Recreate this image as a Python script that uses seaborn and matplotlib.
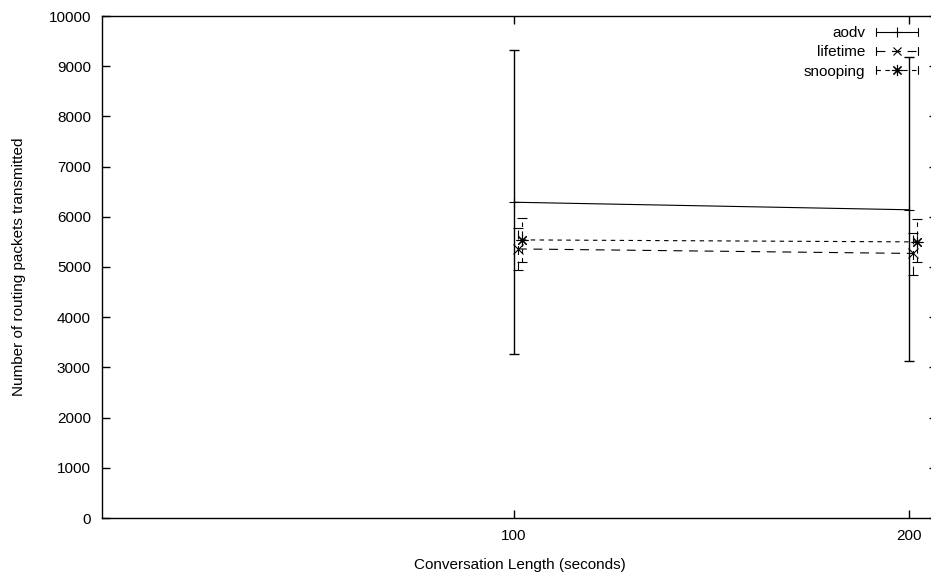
import matplotlib
matplotlib.use("Agg")
import matplotlib.pyplot as plt
import numpy as np
import pandas as pd
import seaborn as sns
from matplotlib.legend_handler import HandlerBase
from matplotlib.lines import Line2D

# ---- data ----
series = ["aodv", "lifetime", "snooping"]

aodv_x = [100, 200]
aodv_y = [6290, 6140]
aodv_lo = [3270, 3130]
aodv_hi = [9320, 9180]

lifetime_x = [101, 201]
lifetime_y = [5360, 5270]
lifetime_lo = [4940, 4850]
lifetime_hi = [5780, 5680]

snooping_x = [102, 202]
snooping_y = [5540, 5500]
snooping_lo = [5100, 5100]
snooping_hi = [5980, 5960]

x_ticks = [100, 200]
y_ticks = list(range(0, 10001, 1000))

x_label = "Conversation Length (seconds)"
y_label = "Number of routing packets transmitted"

# ---- style ----
sns.set_theme(style="ticks")
plt.rcParams["font.family"] = ["Liberation Sans", "DejaVu Sans"]
plt.rcParams["font.size"] = 11
plt.rcParams["axes.edgecolor"] = "black"
plt.rcParams["text.color"] = "black"
plt.rcParams["axes.labelcolor"] = "black"
plt.rcParams["xtick.color"] = "black"
plt.rcParams["ytick.color"] = "black"

markers = {"aodv": "+", "lifetime": "x", "snooping": (8, 2, 0)}
msizes = {"aodv": 7, "lifetime": 6.5, "snooping": 8.5}
dashes = {"aodv": "", "lifetime": (8, 6), "snooping": (4, 4)}
linestyles = {"aodv": "-", "lifetime": (0, (8, 6)), "snooping": (0, (4, 4))}

data = {
    "aodv": (aodv_x, aodv_y, aodv_lo, aodv_hi),
    "lifetime": (lifetime_x, lifetime_y, lifetime_lo, lifetime_hi),
    "snooping": (snooping_x, snooping_y, snooping_lo, snooping_hi),
}

rows = []
for s in series:
    xs, ys, _, _ = data[s]
    for xv, yv in zip(xs, ys):
        rows.append({"x": xv, "y": yv, "series": s})
df = pd.DataFrame(rows)

fig = plt.figure(figsize=(9.31, 5.78), dpi=100)
ax = fig.add_axes([102 / 931, 60 / 578, (937 - 102) / 931, (518 - 16) / 578])

LW = 0.8
sns.lineplot(
    data=df, x="x", y="y", hue="series", style="series",
    palette={s: "black" for s in series},
    markers=markers, dashes=dashes, markersize=7, markeredgewidth=0.9,
    linewidth=LW, legend=False, estimator=None, sort=False, ax=ax,
)
for s, ln in zip(series, ax.lines):
    ln.set_markeredgecolor("black")
    ln.set_markerfacecolor("black")
    ln.set_markeredgewidth(0.8)
    ln.set_markersize(msizes[s])
    ln.set_zorder(3)

for s in series:
    xs, ys, lo, hi = data[s]
    ys = np.array(ys)
    yerr = [ys - np.array(lo), np.array(hi) - ys]
    _, caps, bars = ax.errorbar(xs, ys, yerr=yerr, fmt="none", ecolor="black",
                                elinewidth=1 if s == "aodv" else LW,
                                capsize=3.6, capthick=1 if s == "aodv" else LW)
    bars[0].set_linestyle(linestyles[s])

ax.set_xlim(-4.3, 207.1)
ax.set_ylim(0, 10000)
ax.set_xticks(x_ticks)
ax.set_yticks(y_ticks)
ax.set_xticklabels([str(v) for v in x_ticks])
ax.set_yticklabels([str(v) for v in y_ticks])
ax.tick_params(direction="in", length=6, width=1, top=True, right=True,
               labelsize=11, pad=8)
for sp in ax.spines.values():
    sp.set_visible(True)
    sp.set_linewidth(1)
    sp.set_color("black")
ax.set_xlabel(x_label, fontsize=11, labelpad=11)
ax.set_ylabel(y_label, fontsize=11, labelpad=16)


class ErrorBarHandler(HandlerBase):
    def create_artists(self, legend, orig_handle, xdescent, ydescent,
                       width, height, fontsize, trans):
        y = height / 2 - ydescent
        x0, x1 = -xdescent, width - xdescent
        line = Line2D([x0, x1], [y, y], color="black", lw=LW)
        line.update_from(orig_handle)
        line.set_marker("None")
        line.set_data([x0, x1], [y, y])
        c0 = Line2D([x0, x0], [y - 2.8, y + 2.8], color="black", lw=LW)
        c1 = Line2D([x1, x1], [y - 2.8, y + 2.8], color="black", lw=LW)
        m = Line2D([(x0 + x1) / 2], [y], marker=orig_handle.get_marker(),
                   markersize=orig_handle.get_markersize(), markeredgewidth=0.8,
                   color="black", linestyle="None")
        arts = [line, c0, c1, m]
        for a in arts:
            a.set_transform(trans)
        return arts


handles = [Line2D([], [], color="black", lw=LW, linestyle=linestyles[s],
                  marker=markers[s], markersize=msizes[s] - 0.5) for s in series]
leg = fig.legend(handles, series, loc="upper right",
                 bbox_to_anchor=(918 / 931, 1 - 26 / 578),
                 frameon=False, markerfirst=False, borderpad=0,
                 borderaxespad=0, handlelength=2.75, handletextpad=0.72,
                 labelspacing=0.35, fontsize=11,
                 handler_map={Line2D: ErrorBarHandler()})

fig.savefig("out.png", dpi=100)
